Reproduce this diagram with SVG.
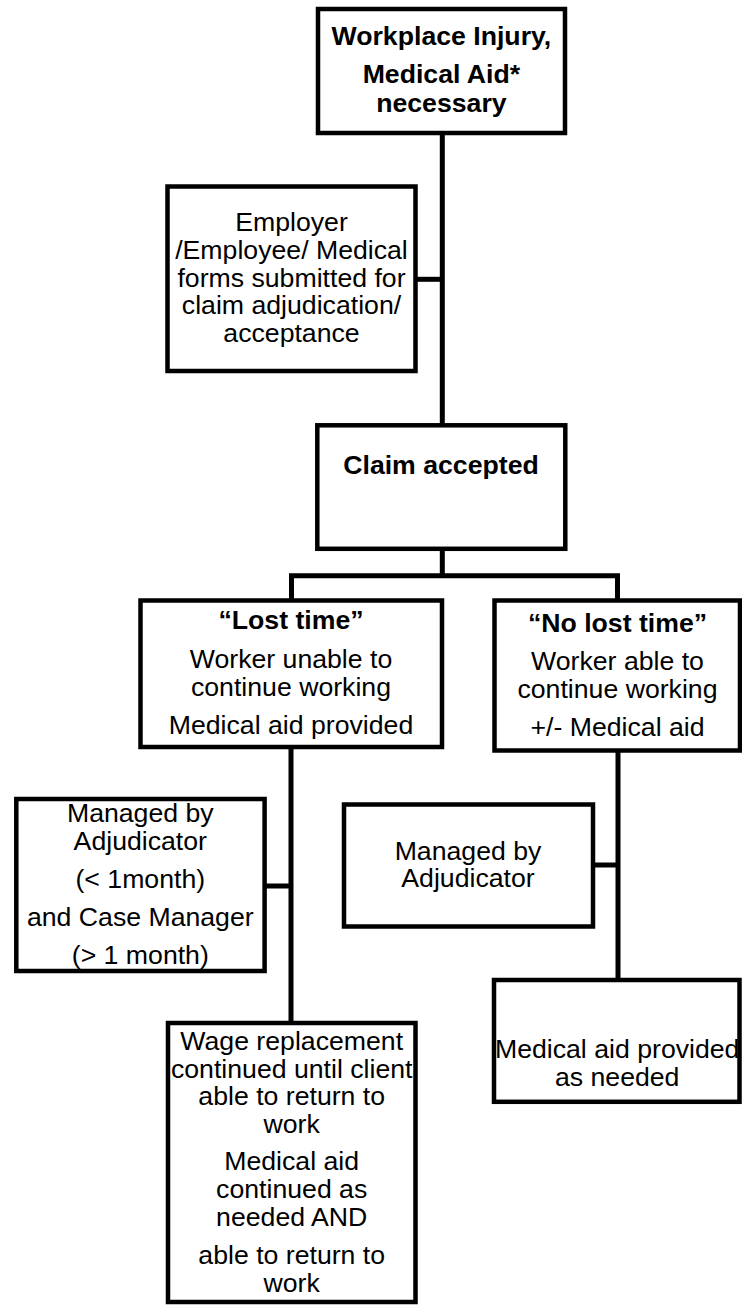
<svg xmlns="http://www.w3.org/2000/svg" width="742" height="1306" viewBox="0 0 742 1306">
<style>
.box{fill:#fff;stroke:#000;stroke-width:4.5}
.c{fill:none;stroke:#000;stroke-width:5;stroke-linejoin:miter}
text{font-family:"Liberation Sans",Arial,sans-serif;font-size:26.67px;fill:#000;text-anchor:middle}
.b{font-weight:bold}
</style>
<rect width="742" height="1306" fill="#fff"/>
<g id="connectors">
<path class="c" d="M442.3 133 V425"/>
<path class="c" d="M416 279.3 H442.3"/>
<path class="c" d="M442.3 549 V575.7"/>
<path class="c" d="M291.5 600 V575.7 H617.5 V600"/>
<path class="c" d="M291 747 V1023"/>
<path class="c" d="M265 886 H291"/>
<path class="c" d="M618 750 V980"/>
<path class="c" d="M593 865 H618"/>
</g>
<g id="n-injury">
<rect class="box" x="318" y="9" width="247" height="124"/>
<text class="b" x="441.4" y="45">Workplace Injury,</text>
<text class="b" x="441.4" y="83.3">Medical Aid*</text>
<text class="b" x="441.4" y="111.7">necessary</text>
</g>
<g id="n-forms">
<rect class="box" x="167.5" y="186.5" width="248" height="184.5"/>
<text x="291.5" y="231">Employer</text>
<text x="291.5" y="259">/Employee/ Medical</text>
<text x="291.5" y="286.7">forms submitted for</text>
<text x="291.5" y="314.3">claim adjudication/</text>
<text x="291.5" y="341.7">acceptance</text>
</g>
<g id="n-claim">
<rect class="box" x="317.3" y="425.3" width="248" height="123.5"/>
<text class="b" x="441" y="474">Claim accepted</text>
</g>
<g id="n-lost">
<rect class="box" x="140.5" y="600.5" width="301.5" height="146.5"/>
<text class="b" x="291" y="629">“Lost time”</text>
<text x="291" y="667.7">Worker unable to</text>
<text x="291" y="696">continue working</text>
<text x="291" y="734.3">Medical aid provided</text>
</g>
<g id="n-nolost">
<rect class="box" x="494.5" y="600.5" width="245.5" height="150"/>
<text class="b" x="617.5" y="631.7">“No lost time”</text>
<text x="617.5" y="670">Worker able to</text>
<text x="617.5" y="698.3">continue working</text>
<text x="617.5" y="736">+/- Medical aid</text>
</g>
<g id="n-managed-left">
<rect class="box" x="16.3" y="799" width="248.3" height="172"/>
<text x="140.3" y="821.7">Managed by</text>
<text x="140.3" y="850">Adjudicator</text>
<text x="140.3" y="888.3">(&lt; 1month)</text>
<text x="140.3" y="925.7">and Case Manager</text>
<text x="140.3" y="964.3">(&gt; 1 month)</text>
</g>
<g id="n-managed-right">
<rect class="box" x="344" y="804.5" width="249" height="122"/>
<text x="468" y="860">Managed by</text>
<text x="468" y="887.3">Adjudicator</text>
</g>
<g id="n-wage">
<rect class="box" x="168" y="1023" width="247.5" height="279"/>
<text x="291.7" y="1050">Wage replacement</text>
<text x="291.7" y="1077.7">continued until client</text>
<text x="291.7" y="1105">able to return to</text>
<text x="291.7" y="1132.7">work</text>
<text x="291.7" y="1170">Medical aid</text>
<text x="291.7" y="1198">continued as</text>
<text x="291.7" y="1225.7">needed AND</text>
<text x="291.7" y="1263.5">able to return to</text>
<text x="291.7" y="1292">work</text>
</g>
<g id="n-medaid">
<rect class="box" x="494" y="980" width="245.5" height="121.8"/>
<text x="617.2" y="1058.3">Medical aid provided</text>
<text x="617.2" y="1085.7">as needed</text>
</g>
</svg>
